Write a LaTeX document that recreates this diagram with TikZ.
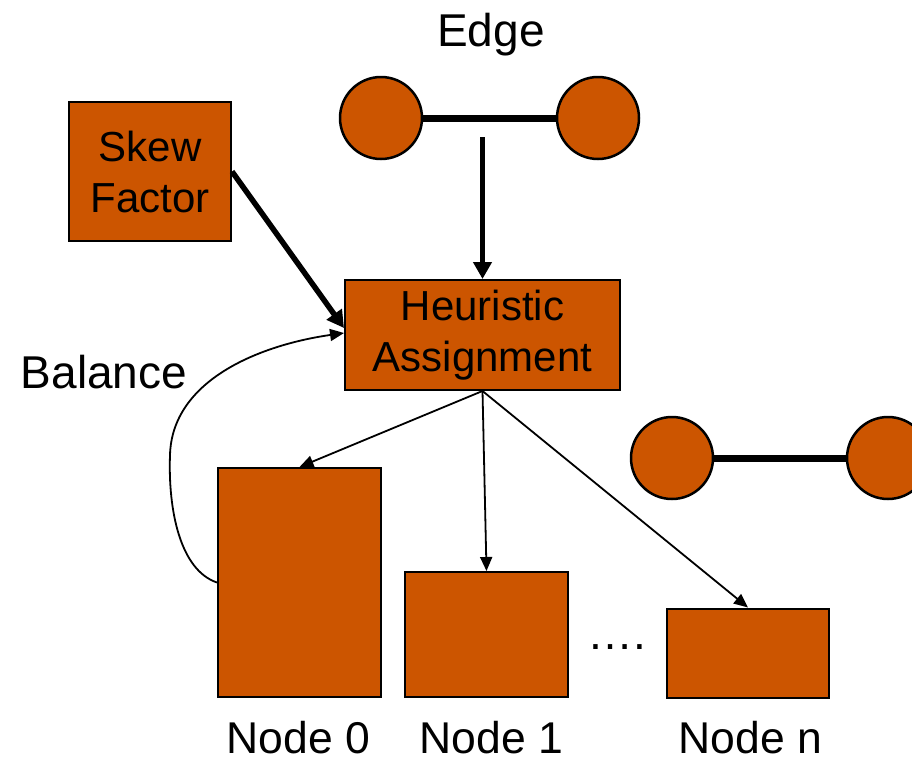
\documentclass[tikz,border=0pt]{standalone}
\usepackage{fontspec}
\setmainfont{Liberation Sans}
\usetikzlibrary{arrows.meta}
\definecolor{rust}{RGB}{204,85,0}
\newcommand{\boxfont}{\fontsize{42}{51}\selectfont}
\newcommand{\labfont}{\fontsize{46}{52}\selectfont}
\newcommand{\nodefont}{\fontsize{44.5}{52}\selectfont}
\begin{document}
\begin{tikzpicture}[x=1pt,y=-1pt,
  box/.style={draw=black, line width=2pt, fill=rust, inner sep=0pt, align=center, font=\boxfont},
  vertex/.style={circle, draw=black, line width=2.5pt, fill=rust, minimum size=82pt, inner sep=0pt},
  link/.style={line width=7pt},
  feed/.style={line width=5.5pt, -{Triangle[length=17pt,width=18pt]}},
  flow/.style={line width=1.8pt, -{Triangle[length=14pt,width=12pt]}},
  lbl/.style={font=\labfont, anchor=base, inner sep=0pt},
  nlbl/.style={font=\nodefont, anchor=base, inner sep=0pt}]
\useasboundingbox (0,0) rectangle (912,763);
\clip (0,0) rectangle (912,763);

% boxes
\node[box, minimum width=162pt, minimum height=139pt] (skew) at (150,171.5) {Skew\\Factor};
\node[box, minimum width=275pt, minimum height=110pt] (heur) at (482.5,335) {Heuristic\\Assignment};
\node[box, minimum width=163pt, minimum height=229pt] (n0) at (299.5,582.5) {};
\node[box, minimum width=163pt, minimum height=125pt] (n1) at (486.5,634.5) {};
\node[box, minimum width=162pt, minimum height=89pt] (nn) at (748,653) {};

% incoming edge
\draw[link] (381,118) -- (598,118);
\node[vertex] (ea) at (381,118) {};
\node[vertex] (eb) at (598,118) {};

% edge waiting to be assigned
\draw[link] (672,458) -- (888,458);
\node[vertex] (fa) at (672,458) {};
\node[vertex] (fb) at (888,458) {};

% connectors
\coordinate (edgeout) at (482.5,137);
\draw[feed] (edgeout) -- (heur.north);
\draw[feed] (skew.east) -- ([yshift=7pt]heur.west);
\draw[flow] (heur.south) -- (n0.north);
\draw[flow] (heur.south) -- (n1.north);
\draw[flow] (heur.south) -- (nn.north);
\draw[flow] (n0.west) .. controls (180,570) and (168,510) .. (170,455)
  .. controls (172,380) and (260,345) .. ([yshift=2pt]heur.west);

% labels
\node[lbl] (edgelbl) at (491,46.5) {Edge};
\node[lbl] (ballbl) at (104,388) {Balance};
\node[nlbl] (l0) at (298.5,753) {Node 0};
\node[nlbl] (l1) at (491.5,753) {Node 1};
\node[nlbl] (ln) at (750.5,753) {Node n};
\node[lbl, anchor=base west] (dots) at (587,649) {….};
\end{tikzpicture}
\end{document}
